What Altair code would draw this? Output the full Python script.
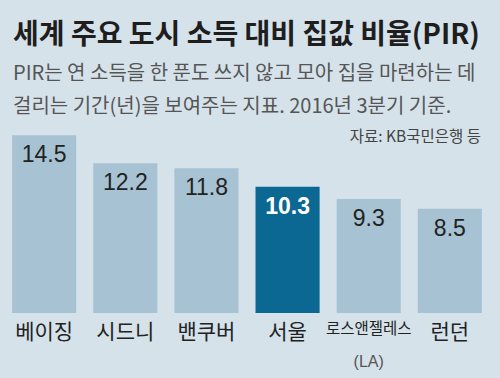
import altair as alt
import pandas as pd

cities = ["베이징", "시드니", "밴쿠버", "서울", "로스앤젤레스", "런던"]
sublabels = ["", "", "", "", "(LA)", ""]
pir = [14.5, 12.2, 11.8, 10.3, 9.3, 8.5]
highlight = [False, False, False, True, False, False]

df = pd.DataFrame({"city": cities, "sub": sublabels, "pir": pir, "hl": highlight})

KR = "Noto Sans CJK KR"
BG = "#d5e2ea"
PLOT_W = 486
PLOT_H = 184

x = alt.X("city:N", sort=cities,
          scale=alt.Scale(paddingInner=0.21, paddingOuter=0.1),
          axis=alt.Axis(title=None, domain=False, ticks=False, labelAngle=0,
                        labelFont=KR,
                        labelFontSize={"condition": {"test": "datum.value == '로스앤젤레스'",
                                                     "value": 15.5},
                                       "value": 21},
                        labelColor="#222222",
                        labelPadding=8, labelBaseline="top"))
y = alt.Y("pir:Q", scale=alt.Scale(domain=[0, 15], nice=False), axis=None)

base = alt.Chart(df).encode(x=x)

bars = base.mark_bar().encode(
    y=y,
    color=alt.condition("datum.hl", alt.value("#0b6892"), alt.value("#a6c2d3")),
)

vals = base.transform_filter("!datum.hl").mark_text(
    baseline="top", dy=9, font="Liberation Sans", fontSize=23, color="#222222"
).encode(y=y, text=alt.Text("pir:Q", format=".1f"))

vals_hl = base.transform_filter("datum.hl").mark_text(
    baseline="top", dy=9, font="Liberation Sans", fontSize=23, color="#ffffff",
    fontWeight="bold"
).encode(y=y, text=alt.Text("pir:Q", format=".1f"))

subs = base.mark_text(font="Liberation Sans", fontSize=16, color="#555555",
                      baseline="middle").encode(
    y=alt.value(PLOT_H + 49),
    text="sub:N",
)

source = alt.Chart(pd.DataFrame({"t": ["자료: KB국민은행 등"]})).mark_text(
    align="right", baseline="middle", font=KR, fontSize=15.5, color="#444444"
).encode(x=alt.value(477), y=alt.value(8), text="t:N")

chart = alt.layer(bars, vals, vals_hl, subs, source).properties(
    width=PLOT_W, height=PLOT_H,
    background=BG,
    padding={"left": 4, "top": 129, "right": 10, "bottom": 65},
    autosize=alt.AutoSizeParams(type="none"),
    title=alt.TitleParams(
        text="세계 주요 도시 소득 대비 집값 비율(PIR)",
        subtitle=["PIR는 연 소득을 한 푼도 쓰지 않고 모아 집을 마련하는 데",
                  "걸리는 기간(년)을 보여주는 지표. 2016년 3분기 기준."],
        anchor="start", dx=9, offset=12,
        font=KR, fontSize=28, fontWeight="bold", color="#1e1e1e",
        subtitleFont=KR, subtitleFontSize=20, subtitleColor="#555555",
        subtitleLineHeight=33, subtitlePadding=14,
    ),
).configure_view(stroke=None)

chart.save("out.html", embed_options={"renderer": "svg", "actions": False})
